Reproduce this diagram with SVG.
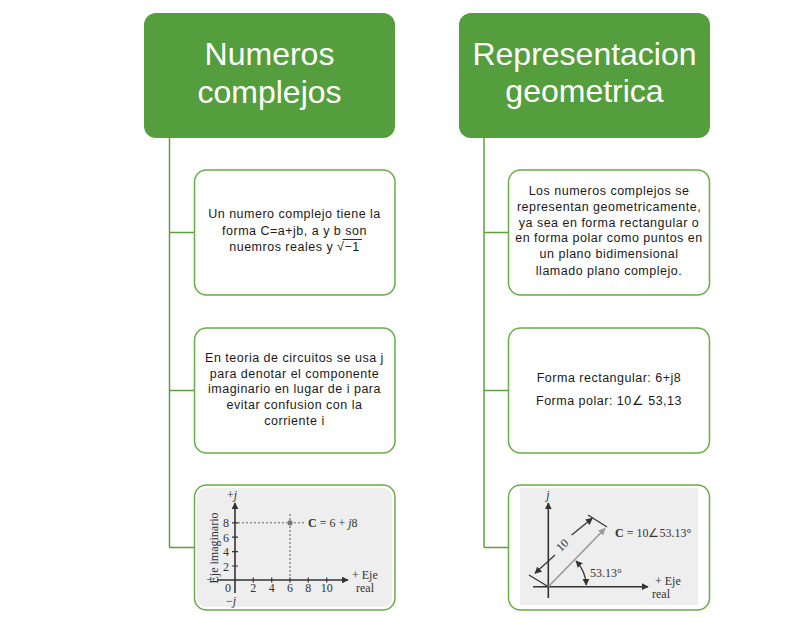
<svg xmlns="http://www.w3.org/2000/svg" width="794" height="625" viewBox="0 0 794 625">
<style>
.hdr{fill:#559E3D}
.htxt{font-family:"Liberation Sans",Arial,sans-serif;font-size:32px;fill:#fff;text-anchor:middle}
.box{fill:#fff;stroke:#6AAC45;stroke-width:1.5}
.btxt{font-family:"Liberation Sans",Arial,sans-serif;font-size:12.5px;letter-spacing:0.5px;fill:#1a1a1a;text-anchor:middle}
.conn{fill:none;stroke:#5B9F3F;stroke-width:1.5}
.pic{fill:#EEEEEE}
.ax{stroke:#333;stroke-width:1.6;fill:none}
.tk{stroke:#333;stroke-width:1.2}
.g{font-family:"Liberation Serif","Times New Roman",serif;font-size:12px;fill:#333}
.dash{stroke:#666;stroke-width:1.1;stroke-dasharray:2 2;fill:none}
</style>
<defs>
<marker id="arr" viewBox="0 0 10 10" refX="9" refY="5" markerWidth="7" markerHeight="7" markerUnits="userSpaceOnUse" orient="auto-start-reverse">
<path d="M0,0 L10,5 L0,10 z" fill="#333"/>
</marker>
<marker id="arrg" viewBox="0 0 10 10" refX="9" refY="5" markerWidth="7" markerHeight="7" markerUnits="userSpaceOnUse" orient="auto">
<path d="M0,0 L10,5 L0,10 z" fill="#999"/>
</marker>
</defs>

<g id="connectors">
<path class="conn" d="M169.5,138 V547.5 M169.5,232.5 H194.5 M169.5,390.5 H194.5 M169.5,547.5 H194.5"/>
<path class="conn" d="M484,138 V547.5 M484,232.5 H508.5 M484,390.5 H508.5 M484,547.5 H508.5"/>
</g>

<g id="header-numeros">
<rect class="hdr" x="144" y="13" width="251" height="125" rx="12"/>
<text class="htxt" x="269.5" y="65">Numeros</text>
<text class="htxt" x="269.5" y="103">complejos</text>
</g>

<g id="header-representacion">
<rect class="hdr" x="459" y="13" width="251" height="125" rx="12"/>
<text class="htxt" x="584.5" y="65">Representacion</text>
<text class="htxt" x="584.5" y="102">geometrica</text>
</g>

<g id="box-definicion">
<rect class="box" x="194.5" y="170" width="200.5" height="125" rx="12"/>
<text class="btxt" x="294.5" y="218">Un numero complejo tiene la</text>
<text class="btxt" x="294.5" y="235">forma C=a+jb, a y b son</text>
<text class="btxt" x="294.5" y="251">nuemros reales y √−1</text>
<line x1="342.5" y1="239.5" x2="362" y2="239.5" stroke="#1a1a1a" stroke-width="0.9"/>
</g>

<g id="box-circuitos">
<rect class="box" x="194.5" y="328" width="200.5" height="125" rx="12"/>
<text class="btxt" x="294.5" y="362">En teoria de circuitos se usa j</text>
<text class="btxt" x="294.5" y="378">para denotar el componente</text>
<text class="btxt" x="294.5" y="393">imaginario en lugar de i para</text>
<text class="btxt" x="294.5" y="409">evitar confusion con la</text>
<text class="btxt" x="294.5" y="425">corriente i</text>
</g>

<g id="box-grafica-rect">
<rect class="box" x="194.5" y="485" width="200.5" height="125" rx="12"/>
<rect class="pic" x="197" y="488" width="195" height="119" rx="9"/>
<line class="ax" x1="235" y1="593" x2="235" y2="503" marker-end="url(#arr)"/>
<line class="ax" x1="217" y1="580" x2="348" y2="580" marker-end="url(#arr)"/>
<path class="tk" d="M253.3,577.5V582.5 M271.7,577.5V582.5 M290,577.5V582.5 M308.3,577.5V582.5 M326.7,577.5V582.5 M232,566H238 M232,551.6H238 M232,537.2H238 M232,522.8H238"/>
<line class="dash" x1="238" y1="522.8" x2="287" y2="522.8"/>
<line class="dash" x1="290" y1="514" x2="290" y2="578"/>
<line class="dash" x1="294" y1="522.8" x2="306" y2="522.8"/>
<circle cx="290" cy="522.8" r="2.6" fill="#777"/>
<text class="g" x="308" y="527" font-size="13"><tspan font-weight="bold">C</tspan> = 6 + <tspan font-style="italic">j</tspan>8</text>
<text class="g" x="226" y="527" text-anchor="middle">8</text>
<text class="g" x="226" y="541.5" text-anchor="middle">6</text>
<text class="g" x="226" y="556" text-anchor="middle">4</text>
<text class="g" x="226" y="570.5" text-anchor="middle">2</text>
<text class="g" x="228" y="592" text-anchor="middle">0</text>
<text class="g" x="253.3" y="592" text-anchor="middle">2</text>
<text class="g" x="271.7" y="592" text-anchor="middle">4</text>
<text class="g" x="290" y="592" text-anchor="middle">6</text>
<text class="g" x="308.3" y="592" text-anchor="middle">8</text>
<text class="g" x="326.7" y="592" text-anchor="middle">10</text>
<text class="g" x="232" y="499" text-anchor="middle">+<tspan font-style="italic">j</tspan></text>
<text class="g" x="231" y="605" font-size="11" text-anchor="middle">−<tspan font-style="italic">j</tspan></text>
<text class="g" x="210" y="583" text-anchor="middle">−</text>
<text class="g" x="352" y="579" font-size="11">+ Eje</text>
<text class="g" x="356" y="592" font-size="11">real</text>
<text class="g" x="0" y="0" font-size="11" text-anchor="middle" transform="translate(218,548) rotate(-90)">Eje imaginario</text>
</g>

<g id="box-descripcion">
<rect class="box" x="508.5" y="170" width="201" height="125" rx="12"/>
<text class="btxt" x="609" y="195">Los numeros complejos se</text>
<text class="btxt" x="609" y="211">representan geometricamente,</text>
<text class="btxt" x="609" y="227">ya sea en forma rectangular o</text>
<text class="btxt" x="609" y="242">en forma polar como puntos en</text>
<text class="btxt" x="609" y="258">un plano bidimensional</text>
<text class="btxt" x="609" y="275">llamado plano complejo.</text>
</g>

<g id="box-formas">
<rect class="box" x="508.5" y="328" width="201" height="125" rx="12"/>
<text class="btxt" x="609" y="382">Forma rectangular: 6+j8</text>
<text class="btxt" x="609" y="405">Forma polar: 10∠ 53,13</text>
</g>

<g id="box-grafica-polar">
<rect class="box" x="508.5" y="485" width="201" height="125" rx="12"/>
<rect class="pic" x="520" y="488" width="178" height="117"/>
<line class="ax" x1="548.3" y1="598" x2="548.3" y2="503" marker-end="url(#arr)"/>
<line class="ax" x1="533" y1="586.7" x2="648" y2="586.7" marker-end="url(#arr)"/>
<line x1="548.3" y1="586.7" x2="605" y2="528.5" stroke="#999" stroke-width="1.6" marker-end="url(#arrg)"/>
<line class="tk" x1="588" y1="515" x2="607" y2="527"/>
<line class="tk" x1="529" y1="575" x2="548.3" y2="586.7"/>
<line class="tk" x1="535" y1="573.3" x2="555" y2="555" marker-start="url(#arr)"/>
<line class="tk" x1="571.7" y1="535" x2="592.3" y2="518.3" marker-end="url(#arr)"/>
<text class="g" x="0" y="0" font-size="13" text-anchor="middle" transform="translate(565,548) rotate(-44)">10</text>
<path class="tk" fill="none" d="M586.3,585 A38,38 0 0 0 576,561" marker-start="url(#arr)" marker-end="url(#arr)"/>
<text class="g" x="590" y="577">53.13°</text>
<text class="g" x="615" y="537"><tspan font-weight="bold">C</tspan> = 10∠53.13°</text>
<text class="g" x="548" y="499" text-anchor="middle" font-style="italic">j</text>
<text class="g" x="655" y="585">+ Eje</text>
<text class="g" x="652" y="598">real</text>
</g>
</svg>
